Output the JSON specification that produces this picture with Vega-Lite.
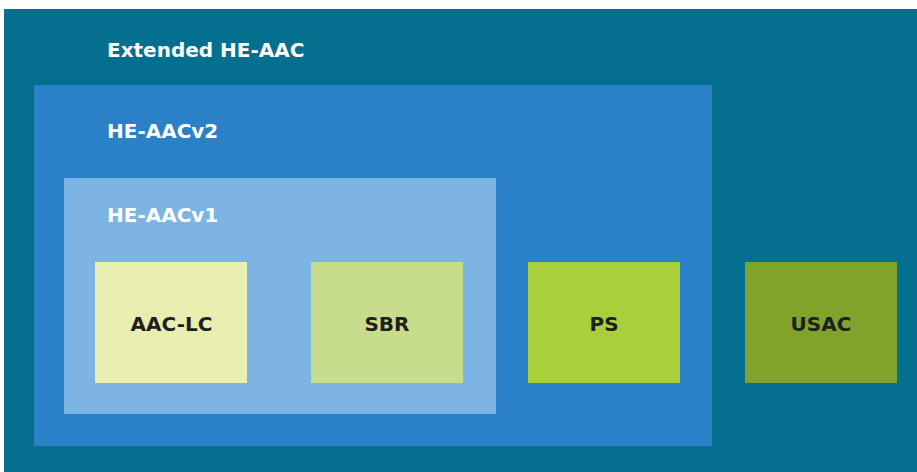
{
  "$schema": "https://vega.github.io/schema/vega-lite/v6.json",
  "width": 917,
  "height": 472,
  "autosize": {"type": "fit", "contains": "padding"},
  "padding": 0,
  "background": "white",
  "config": {"view": {"stroke": null}},
  "datasets": {
    "boxes": [
      {"name": "Extended HE-AAC", "x": 4, "x2": 917, "y": 9, "y2": 472, "fill": "#046f8f"},
      {"name": "HE-AACv2", "x": 34, "x2": 712, "y": 85, "y2": 446, "fill": "#2a81c8"},
      {"name": "HE-AACv1", "x": 64, "x2": 496, "y": 178, "y2": 414, "fill": "#7cb5e4"},
      {"name": "AAC-LC", "x": 95, "x2": 247, "y": 262, "y2": 383, "fill": "#e8eeb0"},
      {"name": "SBR", "x": 311, "x2": 463, "y": 262, "y2": 383, "fill": "#c8dd8c"},
      {"name": "PS", "x": 528, "x2": 680, "y": 262, "y2": 383, "fill": "#a9d03b"},
      {"name": "USAC", "x": 745, "x2": 897, "y": 262, "y2": 383, "fill": "#80a42b"}
    ],
    "titles": [
      {"label": "Extended HE-AAC", "x": 107, "y": 57},
      {"label": "HE-AACv2", "x": 107, "y": 138},
      {"label": "HE-AACv1", "x": 107, "y": 222}
    ],
    "inner": [
      {"label": "AAC-LC", "x": 171.5, "y": 331},
      {"label": "SBR", "x": 387, "y": 331},
      {"label": "PS", "x": 604, "y": 331},
      {"label": "USAC", "x": 821, "y": 331}
    ]
  },
  "layer": [
    {
      "data": {"name": "boxes"},
      "mark": {"type": "rect"},
      "encoding": {
        "x": {"field": "x", "type": "quantitative", "scale": {"domain": [0, 917], "nice": false, "zero": false}, "axis": null},
        "x2": {"field": "x2"},
        "y": {"field": "y", "type": "quantitative", "scale": {"domain": [472, 0], "nice": false, "zero": false}, "axis": null},
        "y2": {"field": "y2"},
        "color": {"field": "fill", "type": "nominal", "scale": null, "legend": null}
      }
    },
    {
      "data": {"name": "titles"},
      "mark": {"type": "text", "align": "left", "baseline": "alphabetic", "font": "DejaVu Sans", "fontWeight": "bold", "fontSize": 20, "color": "white"},
      "encoding": {
        "x": {"field": "x", "type": "quantitative"},
        "y": {"field": "y", "type": "quantitative"},
        "text": {"field": "label"}
      }
    },
    {
      "data": {"name": "inner"},
      "mark": {"type": "text", "align": "center", "baseline": "alphabetic", "font": "DejaVu Sans", "fontWeight": "bold", "fontSize": 20, "color": "#1f1f1f"},
      "encoding": {
        "x": {"field": "x", "type": "quantitative"},
        "y": {"field": "y", "type": "quantitative"},
        "text": {"field": "label"}
      }
    }
  ]
}
